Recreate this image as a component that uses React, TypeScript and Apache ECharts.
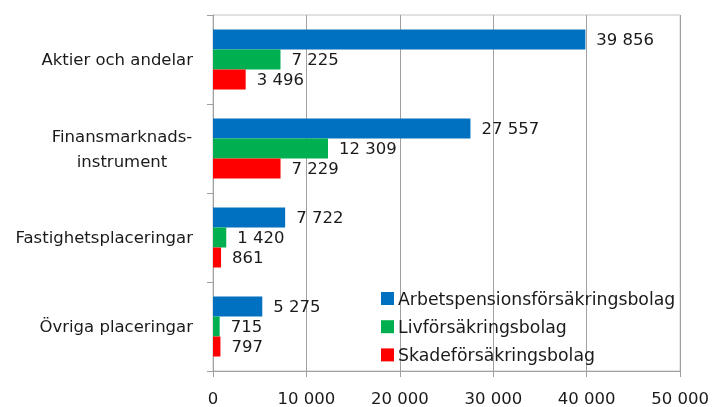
import React, { useEffect, useRef } from "react";
import * as echarts from "echarts";

const categories = [
  "Aktier och andelar",
  "Finansmarknads-\ninstrument",
  "Fastighetsplaceringar",
  "Övriga placeringar",
];
const seriesNames = [
  "Arbetspensionsförsäkringsbolag",
  "Livförsäkringsbolag",
  "Skadeförsäkringsbolag",
];
const arbetspension = [39856, 27557, 7722, 5275];
const livforsakring = [7225, 12309, 1420, 715];
const skadeforsakring = [3496, 7229, 861, 797];
const xTicks = [0, 10000, 20000, 30000, 40000, 50000];
const colors = ["#0070C0", "#00B050", "#FF0000"];

const FONT = "DejaVu Sans";
const fmt = (v: number) => {
  const s = Math.round(v).toString();
  return s.replace(/\B(?=(\d{3})+(?!\d))/g, " ");
};

export default function App() {
  const ref = useRef<HTMLDivElement>(null);
  useEffect(() => {
    if (!ref.current) return;
    const chart = echarts.init(ref.current, undefined, { renderer: "svg" });
    const values = [arbetspension, livforsakring, skadeforsakring];
    chart.setOption({
      animation: false,
      textStyle: { fontFamily: FONT },
      grid: {
        left: 213,
        right: 29,
        top: 15,
        bottom: 35,
        show: true,
        borderColor: "#c4c4c4",
        borderWidth: 1,
      },
      legend: {
        orient: "vertical",
        left: 381,
        top: 290,
        padding: 0,
        itemWidth: 13,
        itemHeight: 13,
        itemGap: 11.2,
        icon: "rect",
        data: seriesNames,
        textStyle: { fontFamily: FONT, fontSize: 17.3, color: "#1a1a1a", padding: [0, 0, 0, -1] },
      },
      xAxis: {
        type: "value",
        min: xTicks[0],
        max: xTicks[xTicks.length - 1],
        interval: xTicks[1] - xTicks[0],
        axisLine: { show: true, lineStyle: { color: "#a0a0a0" } },
        axisTick: { show: true, length: 6, lineStyle: { color: "#a0a0a0" } },
        splitLine: { show: true, lineStyle: { color: "#a0a0a0" } },
        axisLabel: {
          fontFamily: FONT,
          fontSize: 16.5,
          color: "#1a1a1a",
          margin: 19,
          formatter: (v: number) => fmt(v),
        },
      },
      yAxis: {
        type: "category",
        inverse: true,
        data: categories,
        axisLine: { show: true, lineStyle: { color: "#a0a0a0" } },
        axisTick: { show: true, length: 6, lineStyle: { color: "#a0a0a0" } },
        axisLabel: {
          fontFamily: FONT,
          fontSize: 16.5,
          color: "#1a1a1a",
          margin: 20,
          formatter: (v: string) => {
            if (v.indexOf("\n") >= 0) {
              return v
                .split("\n")
                .map((l) => "{c|" + l + "}")
                .join("\n");
            }
            return v;
          },
          rich: {
            c: {
              fontFamily: FONT,
              fontSize: 16.5,
              color: "#1a1a1a",
              width: 142,
              align: "center",
              lineHeight: 25,
            },
          },
        },
      },
      series: seriesNames.map((name, i) => ({
        name,
        type: "bar",
        data: values[i],
        barWidth: 20,
        barGap: "0%",
        itemStyle: { color: colors[i] },
        label: {
          show: true,
          position: "right",
          distance: 11,
          fontFamily: FONT,
          fontSize: 16.5,
          color: "#1a1a1a",
          formatter: (p: any) => fmt(p.value),
        },
      })),
    });
    return () => chart.dispose();
  }, []);
  return (
    <div
      ref={ref}
      style={{ position: "fixed", left: 0, top: 0, width: 712, height: 407 }}
    />
  );
}
